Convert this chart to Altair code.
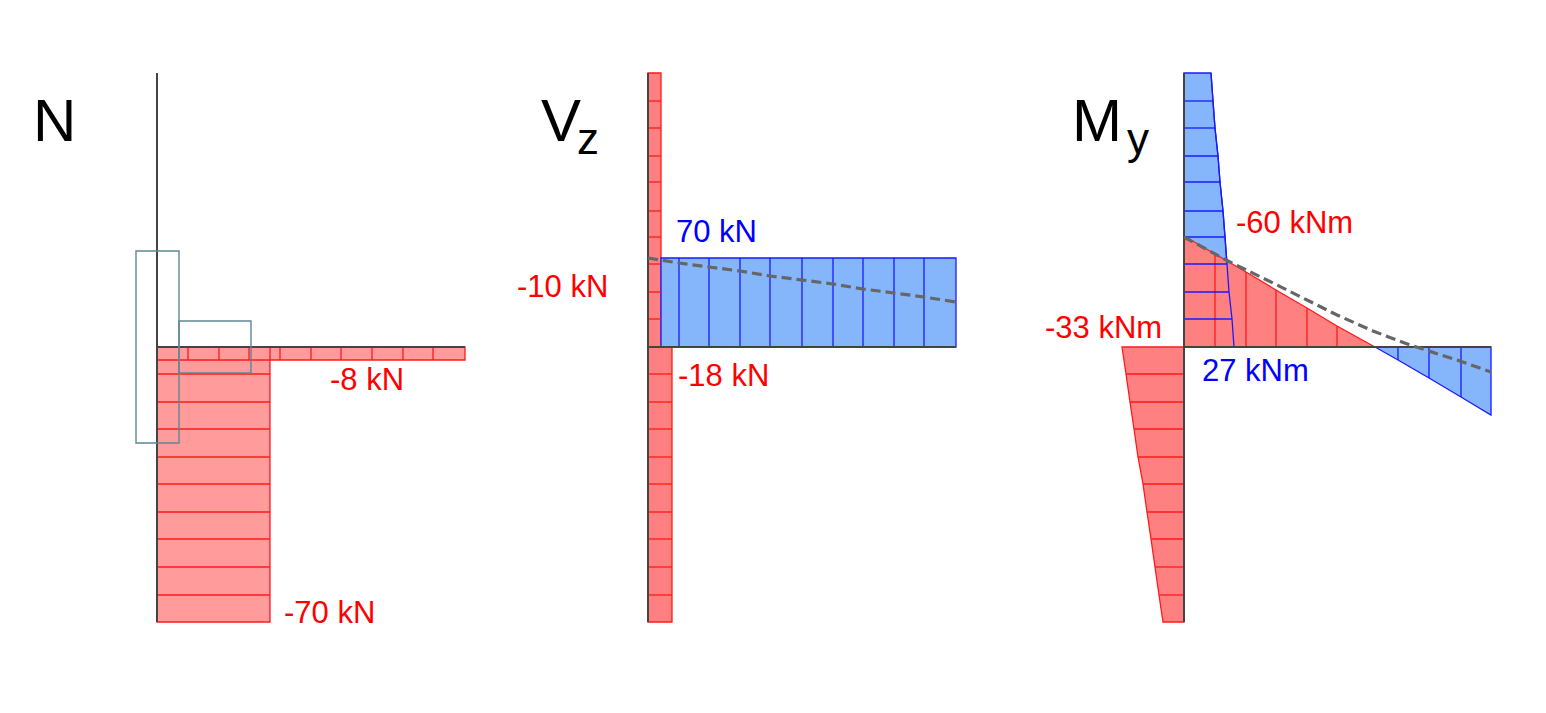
import altair as alt
import pandas as pd

# diagram units: one unit = one pixel of the drawing
FONT = "Liberation Sans"
RED_L, RED, BLUE, BLUE_F = "#ff9b9b", "#ff8080", "#0000ff", "#85b6fb"
RED_S, BLUE_S = "#ff1a1a", "#1a1aff"
AXIS_C, DASH_C, SEC_C = "#444444", "#666666", "#5f8694"

# shared stations
top_y = 73
base_y = 347
foot_y = 622
upper_stations = [101, 128, 156, 182, 211, 237, 264, 292, 319]
lower_stations = [374, 402, 429, 457, 484, 512, 539, 567, 595]

# N
n_x0 = 157
n_beam_end = 465
n_beam_lo = 360
n_col_right = 270
n_beam_ticks = [188, 219, 249, 280, 311, 341, 372, 403, 433]

# Vz
v_x0 = 648
v_upper_right = 661
v_lower_right = 672
v_beam_end = 956
v_beam_top = 258
v_beam_ticks = [679, 709, 740, 770, 802, 833, 863, 894, 924]
v_dash_x = [648, 679, 709, 740, 770, 802, 833, 863, 894, 924, 956]
v_dash_y = [258, 263, 267, 271, 276, 280, 284, 289, 293, 297, 302]

# My
m_x0 = 1184
m_beam_end = 1491
m_blue_y = [73, 101, 128, 156, 182, 211, 237, 264, 292, 319, 347]
m_blue_x = [1211, 1213, 1215, 1218, 1220, 1223, 1225, 1227, 1229, 1232, 1234]
m_red_x = [1184, 1215, 1246, 1276, 1307, 1337, 1375]
m_red_y = [236, 254, 272, 290, 308, 326, 347]
m_blue2_x = [1375, 1398, 1429, 1461, 1491]
m_blue2_y = [347, 360, 378, 397, 415]
m_low_y = [347, 374, 402, 429, 457, 484, 512, 539, 567, 595, 622]
m_low_x = [1122, 1126, 1130, 1134, 1138, 1143, 1147, 1151, 1155, 1159, 1163]
m_dash_x = [1184, 1226, 1273, 1307, 1337, 1373, 1410, 1457, 1491]
m_dash_y = [237, 260, 283, 300, 315, 331, 345, 360, 372]

# section outlines: x, x2, y, y2
sec_x = [136, 179]
sec_x2 = [179, 251]
sec_y = [251, 321]
sec_y2 = [443, 373]

# texts
lab_text = ["-8 kN", "-70 kN", "70 kN", "-10 kN", "-18 kN", "-60 kNm", "-33 kNm", "27 kNm"]
lab_x = [330, 284, 676, 517, 678, 1236, 1045, 1202]
lab_y = [390, 623, 242, 297, 386, 233, 338, 381]
lab_col = ["red", "red", "blue", "red", "red", "red", "red", "blue"]
title_text = ["N", "V", "M"]
title_x = [33, 541, 1072]
sub_text = ["z", "y"]
sub_x = [577, 1127]
sub_y = [154, 154]
title_base = 141

xs = alt.Scale(domain=[8, 1538], range=[0, 1530], nice=False, zero=False)
ys = alt.Scale(domain=[703, 8], range=[695, 0], nice=False, zero=False)
X = alt.X("x:Q", scale=xs, axis=None)
Y = alt.Y("y:Q", scale=ys, axis=None)
X2 = alt.X2("x2:Q")
Y2 = alt.Y2("y2:Q")


def down_area(xv, yv, y2v, fill, stroke):
    """Area along x, between y and y2."""
    d = pd.DataFrame({"x": xv, "y": yv, "y2": y2v})
    return alt.Chart(d).mark_area(fill=fill, stroke=stroke, strokeWidth=1.3, orient="vertical").encode(x=X, y=Y, y2=Y2)


def side_area(yv, xv, x2v, fill, stroke):
    """Area along y, between x and x2."""
    d = pd.DataFrame({"y": yv, "x": xv, "x2": x2v})
    return alt.Chart(d).mark_area(fill=fill, stroke=stroke, strokeWidth=1.3, orient="horizontal").encode(y=Y, x=X, x2=X2)


def hrules(yv, xv, x2v, color, w=1.3):
    d = pd.DataFrame({"y": yv, "x": xv, "x2": x2v})
    return alt.Chart(d).mark_rule(color=color, strokeWidth=w).encode(y=Y, x=X, x2=X2)


def vrules(xv, yv, y2v, color, w=1.3):
    d = pd.DataFrame({"x": xv, "y": yv, "y2": y2v})
    return alt.Chart(d).mark_rule(color=color, strokeWidth=w).encode(x=X, y=Y, y2=Y2)


def dashed(xv, yv):
    d = pd.DataFrame({"x": xv, "y": yv})
    return alt.Chart(d).mark_line(color=DASH_C, strokeWidth=3.2, strokeDash=[10, 5]).encode(
        x=alt.X("x:Q", scale=xs, axis=None, sort=None), y=Y)


def const(v, ref):
    return [v] * len(ref)


layers = []

# --- N
layers += [
    down_area([n_x0, n_beam_end], const(base_y, [0, 0]), const(n_beam_lo, [0, 0]), RED_L, RED_S),
    side_area([base_y, foot_y], const(n_x0, [0, 0]), const(n_col_right, [0, 0]), RED_L, RED_S),
    vrules(n_beam_ticks, const(base_y, n_beam_ticks), const(n_beam_lo, n_beam_ticks), RED_S),
    hrules(lower_stations, const(n_x0, lower_stations), const(n_col_right, lower_stations), RED_S),
    hrules([n_beam_lo], [n_x0], [n_col_right], RED_S),
    vrules([n_x0], [top_y], [foot_y], AXIS_C, 2),
    hrules([base_y], [n_x0], [n_beam_end], AXIS_C, 2),
    alt.Chart(pd.DataFrame({"x": sec_x, "x2": sec_x2, "y": sec_y, "y2": sec_y2}))
    .mark_rect(fillOpacity=0, stroke=SEC_C, strokeWidth=1.4)
    .encode(x=X, x2=X2, y=Y, y2=Y2),
]

# --- Vz
layers += [
    side_area([top_y, base_y], const(v_x0, [0, 0]), const(v_upper_right, [0, 0]), RED, RED_S),
    side_area([base_y, foot_y], const(v_x0, [0, 0]), const(v_lower_right, [0, 0]), RED, RED_S),
    down_area([v_upper_right, v_beam_end], const(v_beam_top, [0, 0]), const(base_y, [0, 0]), BLUE_F, BLUE_S),
    hrules(upper_stations, const(v_x0, upper_stations), const(v_upper_right, upper_stations), RED_S),
    hrules(lower_stations, const(v_x0, lower_stations), const(v_lower_right, lower_stations), RED_S),
    vrules(v_beam_ticks, const(v_beam_top, v_beam_ticks), const(base_y, v_beam_ticks), BLUE_S),
    vrules([v_x0], [top_y], [foot_y], AXIS_C, 2),
    hrules([base_y], [v_x0], [v_beam_end], AXIS_C, 2),
    dashed(v_dash_x, v_dash_y),
]

# --- My
layers += [
    side_area(m_blue_y, const(m_x0, m_blue_y), m_blue_x, BLUE_F, BLUE_S),
    down_area(m_red_x, m_red_y, const(base_y, m_red_x), RED, RED_S),
    down_area(m_blue2_x, const(base_y, m_blue2_x), m_blue2_y, BLUE_F, BLUE_S),
    side_area(m_low_y, m_low_x, const(m_x0, m_low_y), RED, RED_S),
    vrules(m_red_x[1:-1], m_red_y[1:-1], const(base_y, m_red_x[1:-1]), RED_S),
    vrules(m_blue2_x[1:-1], const(base_y, m_blue2_x[1:-1]), m_blue2_y[1:-1], BLUE_S),
    hrules(m_blue_y[1:-1], const(m_x0, m_blue_y[1:-1]), m_blue_x[1:-1], BLUE_S),
    # the blue edge stays visible over the red triangle
    alt.Chart(pd.DataFrame({"y": m_blue_y, "x": m_blue_x}))
    .mark_line(color=BLUE_S, strokeWidth=1.3, orient="horizontal")
    .encode(x=X, y=alt.Y("y:Q", scale=ys, axis=None, sort=None)),
    hrules(m_low_y[1:-1], m_low_x[1:-1], const(m_x0, m_low_y[1:-1]), RED_S),
    vrules([m_x0], [top_y], [foot_y], AXIS_C, 2),
    hrules([base_y], [m_x0], [m_beam_end], AXIS_C, 2),
    dashed(m_dash_x, m_dash_y),
]

# --- texts
lab = pd.DataFrame({"x": lab_x, "y": lab_y, "t": lab_text, "c": lab_col})
layers.append(
    alt.Chart(lab)
    .mark_text(font=FONT, fontSize=31, align="left", baseline="alphabetic")
    .encode(x=X, y=Y, text="t:N", color=alt.Color("c:N", scale=None))
)
layers.append(
    alt.Chart(pd.DataFrame({"x": title_x, "y": const(title_base, title_x), "t": title_text}))
    .mark_text(font=FONT, fontSize=60, align="left", baseline="alphabetic", color="black")
    .encode(x=X, y=Y, text="t:N")
)
layers.append(
    alt.Chart(pd.DataFrame({"x": sub_x, "y": sub_y, "t": sub_text}))
    .mark_text(font=FONT, fontSize=44, align="left", baseline="alphabetic", color="black")
    .encode(x=X, y=Y, text="t:N")
)

chart = (
    alt.layer(*layers)
    .properties(width=1530, height=695, padding=0, autosize=alt.AutoSizeParams(type="none"))
    .configure_view(stroke=None)
)

chart.save("out.html", embed_options={"renderer": "svg", "actions": False})
